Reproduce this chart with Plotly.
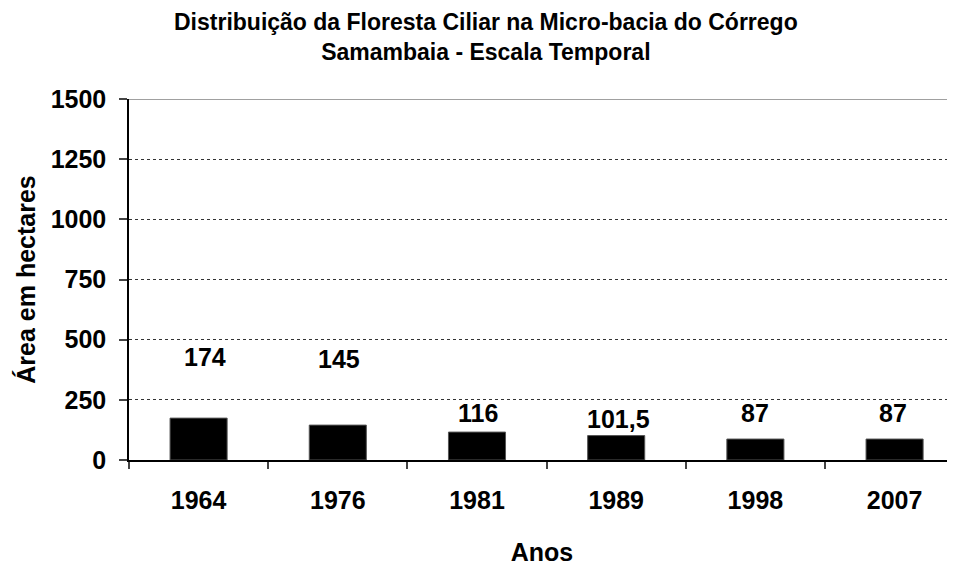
import plotly.graph_objects as go

# Data
years = ["1964", "1976", "1981", "1989", "1998", "2007"]
area_ha = [174, 145, 116, 101.5, 87, 87]
value_labels = ["174", "145", "116", "101,5", "87", "87"]
y_ticks = [0, 250, 500, 750, 1000, 1250, 1500]

# Label placement (layout, in data units of y axis)
label_y = [428, 420, 195, 172, 195, 195]
label_xshift = [6, 1, 1, 2, 0, -2]

FONT = "Liberation Sans, Arial, sans-serif"
TITLE = "Distribuição da Floresta Ciliar na Micro-bacia do Córrego<br>Samambaia - Escala Temporal"

fig = go.Figure()
fig.add_trace(go.Bar(
    x=years, y=area_ha,
    width=0.41,
    marker=dict(color="black", line=dict(color="#555555", width=1)),
    showlegend=False,
    hoverinfo="x+y",
))

for i, lab in enumerate(value_labels):
    fig.add_annotation(
        x=i, y=label_y[i], xref="x", yref="y", text=lab, showarrow=False,
        xshift=label_xshift[i],
        font=dict(family=FONT, size=25, color="black", weight="bold"),
    )

# chart title (two lines)
fig.add_annotation(
    x=0.4328, y=1.172, xref="paper", yref="paper", text=TITLE, showarrow=False,
    xanchor="center", yanchor="middle", align="center",
    font=dict(family=FONT, size=23, color="black", weight="bold"),
)

# solid top border line at 1500
fig.add_shape(type="line", xref="paper", yref="y", x0=0, x1=1, y0=1500, y1=1500,
              line=dict(color="#808080", width=1.5))

# page body has an 8px default margin, so the figure is sized to fit the window
fig.update_layout(
    width=947, height=558,
    margin=dict(l=121, r=0, t=91, b=106),
    paper_bgcolor="white", plot_bgcolor="white",
    font=dict(family=FONT, color="black"),
    bargap=0.59,
)

fig.update_xaxes(
    type="category",
    range=[-0.5, 5.434],
    automargin=False,
    showline=True, linecolor="black", linewidth=1.5,
    ticks="outside", ticklen=7, tickcolor="#444444", tickwidth=1.5,
    tickson="boundaries",
    showgrid=False,
    tickfont=dict(family=FONT, size=25, color="black", weight="bold"),
    ticklabelstandoff=17,
    title=dict(text="Anos", standoff=33,
               font=dict(family=FONT, size=25, color="black", weight="bold")),
)

fig.update_yaxes(
    range=[0, 1500],
    automargin=False,
    tickvals=y_ticks,
    ticktext=[str(v) for v in y_ticks],
    showline=True, linecolor="black", linewidth=1.5,
    ticks="outside", ticklen=8, tickcolor="#444444", tickwidth=1.5,
    showgrid=True, gridcolor="#333333", gridwidth=1, griddash="dot",
    zeroline=False,
    tickfont=dict(family=FONT, size=25, color="black", weight="bold"),
    ticklabelstandoff=8,
    title=dict(text="Área em hectares", standoff=8,
               font=dict(family=FONT, size=25, color="black", weight="bold")),
)

fig.write_html("out.html", config={"displayModeBar": False})
